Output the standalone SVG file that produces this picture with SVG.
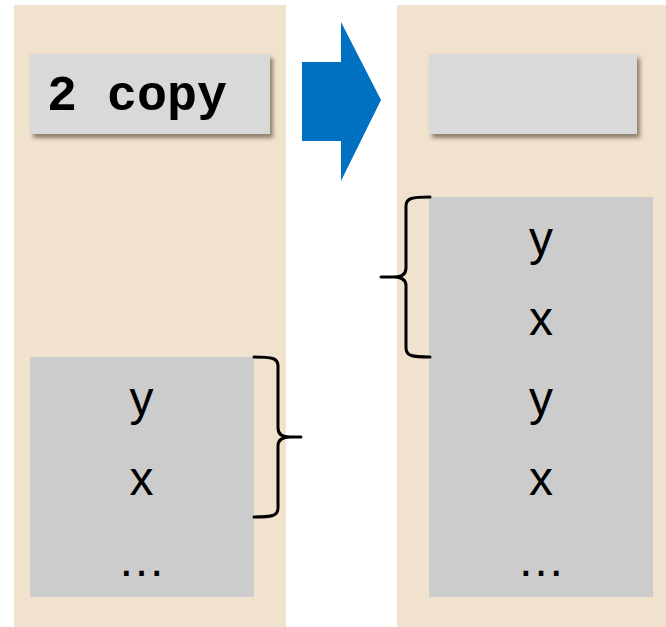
<svg xmlns="http://www.w3.org/2000/svg" width="666" height="627" viewBox="0 0 666 627">
<defs>
<filter id="sh" x="-10%" y="-20%" width="130%" height="160%">
<feDropShadow dx="3" dy="4" stdDeviation="2.2" flood-color="#4a3a28" flood-opacity="0.6"/>
</filter>
</defs>
<style>
.panel{fill:#F1E2CE}
.cmd{fill:#D9D9D9;filter:url(#sh)}
.stack{fill:#CCCCCC}
.t{font-family:"Liberation Sans",Arial,sans-serif;font-size:48px;fill:#000;text-anchor:middle}
.code{font-family:"Courier New","Nimbus Mono PS","FreeMono","Liberation Mono",monospace;font-weight:bold;font-size:50px;fill:#000}
.brace{fill:none;stroke:#000;stroke-width:3;stroke-linecap:round;stroke-linejoin:round}
</style>
<rect width="666" height="627" fill="#fff"/>
<g id="panel-left">
<rect class="panel" x="14" y="5" width="272" height="622"/>
</g>
<g id="panel-right">
<rect class="panel" x="397" y="5" width="269" height="622"/>
</g>
<g id="cmd-left">
<rect class="cmd" x="30" y="54" width="240" height="80"/>
<text class="code" x="47" y="110">2 copy</text>
</g>
<g id="cmd-right">
<rect class="cmd" x="429" y="54" width="208" height="80"/>
</g>
<g id="stack-left">
<rect class="stack" x="30" y="357" width="224" height="240"/>
<text class="t" x="141.5" y="415">y</text>
<text class="t" x="141.5" y="495">x</text>
<text class="t" x="141.5" y="576">…</text>
</g>
<g id="stack-right">
<rect class="stack" x="429" y="197" width="224" height="400"/>
<text class="t" x="541" y="255">y</text>
<text class="t" x="541" y="335">x</text>
<text class="t" x="541" y="415">y</text>
<text class="t" x="541" y="495">x</text>
<text class="t" x="541" y="576">…</text>
</g>
<g id="arrow">
<polygon points="302,62 341,62 341,22 381,100 341,181 341,141 302,141" fill="#0070C0"/>
</g>
<g id="connectors">
<path class="brace" d="M254,357 C272,357 278,358 278,366 L278,428 C278,434 282,437 290,437 L301,437 M254,517 C272,517 278,516 278,508 L278,446 C278,440 282,437 290,437"/>
<path class="brace" d="M430,197 C412,197 406,198 406,206 L406,268 C406,274 402,277 394,277 L381,277 M430,357 C412,357 406,356 406,348 L406,286 C406,280 402,277 394,277"/>
</g>
</svg>
